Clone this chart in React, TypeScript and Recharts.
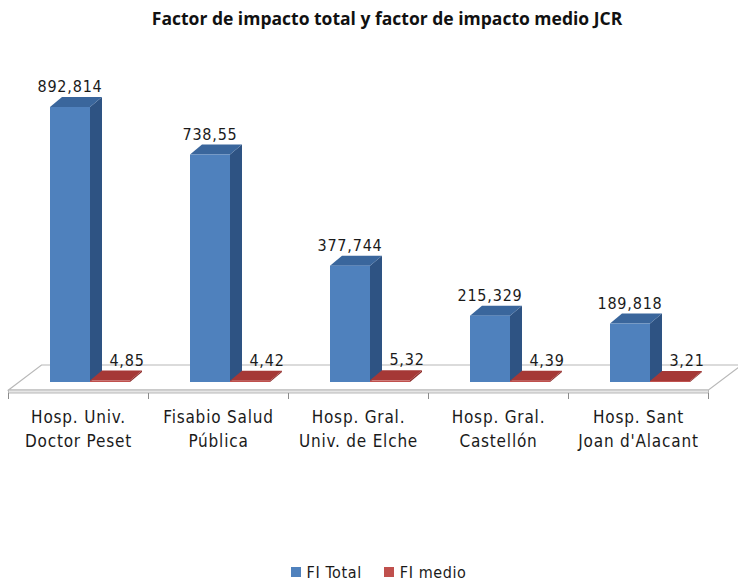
import React from 'react';
import { BarChart, Bar, XAxis, YAxis, Legend, LabelList, Customized } from 'recharts';

const title = 'Factor de impacto total y factor de impacto medio JCR';
const categories = [
  'Hosp. Univ.\nDoctor Peset',
  'Fisabio Salud\nPública',
  'Hosp. Gral.\nUniv. de Elche',
  'Hosp. Gral.\nCastellón',
  "Hosp. Sant\nJoan d'Alacant",
];
const fiTotal = [892.814, 738.55, 377.744, 215.329, 189.818];
const fiMedio = [4.85, 4.42, 5.32, 4.39, 3.21];
const seriesNames = ['FI Total', 'FI medio'];

const data = categories.map((name, i) => ({ name, total: fiTotal[i], medio: fiMedio[i] }));

const W = 738;
const H = 583;
const margin = { top: 74, right: 18, left: 20, bottom: 0 };
const LEGEND_H = 22;
const XAXIS_H = 179;
const DX = 12; // bar depth
const DY = 10;
const SHIFT = 11.5; // bars stand in the middle of the floor depth
const FLOOR_FRONT = 390;
const FLOOR_BACK = 365;
const FONT = '"DejaVu Sans Condensed", "DejaVu Sans", sans-serif';

const colors = {
  total: { front: '#4F81BD', top: '#3A669C', side: '#2E5383' },
  medio: { front: '#C0504D', top: '#A53836', side: '#8C2B29' },
};

const fmt = (v: number) => String(v).replace('.', ',');

const Bar3D = (palette: { front: string; top: string; side: string }) => (props: any) => {
  const { x, y, width, height } = props;
  if (width == null || height == null) return null;
  const b = y + height;
  return (
    <g>
      <polygon
        points={`${x + width},${y} ${x + width + DX},${y - DY} ${x + width + DX},${b - DY} ${x + width},${b}`}
        fill={palette.side}
      />
      <polygon
        points={`${x},${y} ${x + DX},${y - DY} ${x + width + DX},${y - DY} ${x + width},${y}`}
        fill={palette.top}
      />
      <rect x={x} y={y} width={width} height={height} fill={palette.front} />
    </g>
  );
};

const Floor = () => {
  const left = margin.left - SHIFT;
  const right = W - margin.right - SHIFT;
  const back = 33;
  const step = (right - left) / categories.length;
  const ticks = [];
  for (let i = 0; i <= categories.length; i++) ticks.push(left + i * step);
  return (
    <g>
      <polygon
        points={`${left},${FLOOR_FRONT} ${left + back},${FLOOR_BACK} ${right + back},${FLOOR_BACK} ${right},${FLOOR_FRONT}`}
        fill="#ffffff"
        stroke="#b8b8b8"
        strokeWidth={1.2}
      />
      <polygon
        points={`${left},${FLOOR_FRONT} ${right},${FLOOR_FRONT} ${right},${FLOOR_FRONT + 3} ${left},${FLOOR_FRONT + 3}`}
        fill="#e6e6e6"
        stroke="#b8b8b8"
        strokeWidth={1}
      />
      {ticks.map((t, i) => (
        <line key={i} x1={t} y1={FLOOR_FRONT + 3} x2={t} y2={FLOOR_FRONT + 9} stroke="#8c8c8c" strokeWidth={1} />
      ))}
    </g>
  );
};

const CategoryTick = ({ x, y, payload }: any) => {
  const lines = String(payload.value).split('\n');
  return (
    <text
      x={x - SHIFT}
      y={y}
      textAnchor="middle"
      fill="#1a1a1a"
      style={{ fontFamily: FONT, fontSize: 17, letterSpacing: 0.8 }}
    >
      {lines.map((l, i) => (
        <tspan key={i} x={x - SHIFT} y={y + 33 + i * 24}>
          {l}
        </tspan>
      ))}
    </text>
  );
};

const valueLabel = (dx: number) => (props: any) => {
  const { x, y, width, value } = props;
  return (
    <text
      x={x + width / 2 + dx}
      y={y - DY - 5}
      textAnchor="middle"
      fill="#1a1a1a"
      style={{ fontFamily: FONT, fontSize: 16, letterSpacing: 0.8 }}
    >
      {fmt(value)}
    </text>
  );
};

const LegendContent = () => (
  <div
    style={{
      height: LEGEND_H,
      display: 'flex',
      justifyContent: 'center',
      alignItems: 'center',
      fontFamily: FONT,
      fontSize: 16,
      letterSpacing: 0.6,
      color: '#1a1a1a',
      gap: 22,
      paddingLeft: 17,
      boxSizing: 'border-box',
    }}
  >
    {[colors.total.front, colors.medio.front].map((c, i) => (
      <span key={i} style={{ display: 'flex', alignItems: 'center' }}>
        <span style={{ width: 10, height: 10, background: c, marginRight: 6, display: 'inline-block' }} />
        {seriesNames[i]}
      </span>
    ))}
  </div>
);

export default function App() {
  return (
    <div style={{ position: 'absolute', left: 0, top: 0, width: W, height: H, background: '#fff' }}>
      <div
        style={{
          position: 'absolute',
          top: 6,
          width: W,
          textAlign: 'center',
          fontFamily: '"Open Sans", sans-serif',
          fontWeight: 700,
          fontSize: 17.5,
          color: '#111',
          paddingLeft: 36,
          boxSizing: 'border-box',
        }}
      >
        {title}
      </div>
      <BarChart width={W} height={H} data={data} margin={margin} barGap={0} barSize={40}>
        <Customized component={<Floor />} />
        <XAxis dataKey="name" axisLine={false} tickLine={false} height={XAXIS_H} tick={<CategoryTick />} interval={0} />
        <YAxis hide domain={[0, 1000]} />
        <Legend verticalAlign="bottom" height={LEGEND_H} content={<LegendContent />} />
        <Bar dataKey="total" name={seriesNames[0]} shape={Bar3D(colors.total)} isAnimationActive={false}>
          <LabelList dataKey="total" content={valueLabel(0)} />
        </Bar>
        <Bar dataKey="medio" name={seriesNames[1]} shape={Bar3D(colors.medio)} isAnimationActive={false}>
          <LabelList dataKey="medio" content={valueLabel(17)} />
        </Bar>
      </BarChart>
    </div>
  );
}
